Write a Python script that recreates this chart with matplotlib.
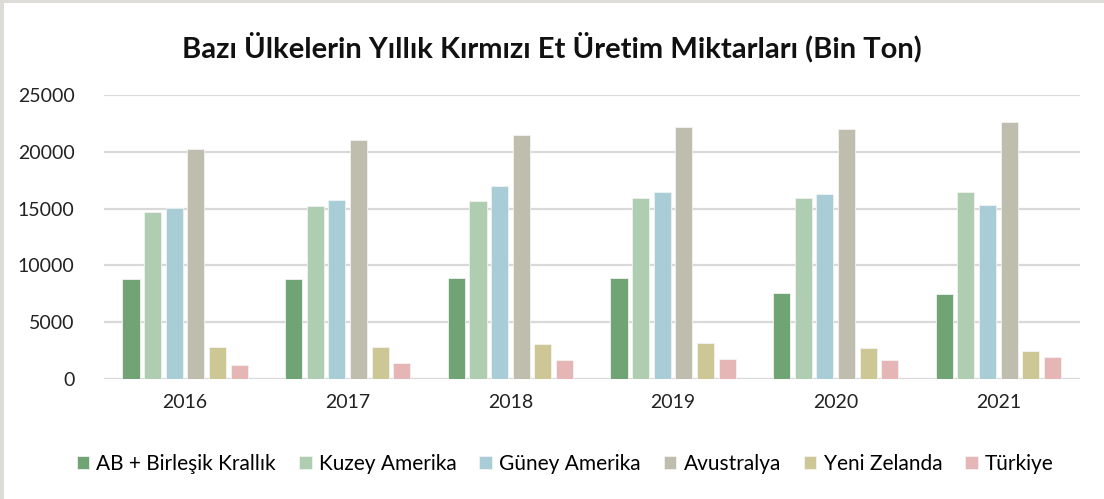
import matplotlib.pyplot as plt
import numpy as np
from matplotlib.patches import Rectangle

plt.rcParams['font.family'] = ['Lato', 'DejaVu Sans']

years = ["2016", "2017", "2018", "2019", "2020", "2021"]
regions = ["AB + Birleşik Krallık", "Kuzey Amerika", "Güney Amerika",
           "Avustralya", "Yeni Zelanda", "Türkiye"]

ab_uk = [8800, 8770, 8900, 8850, 7550, 7470]
kuzey_amerika = [14670, 15200, 15700, 15950, 15950, 16470]
guney_amerika = [15050, 15730, 17000, 16500, 16300, 15300]
avustralya = [20270, 21000, 21500, 22150, 22000, 22600]
yeni_zelanda = [2790, 2840, 3050, 3200, 2700, 2480]
turkiye = [1260, 1400, 1650, 1750, 1700, 1900]

series = [ab_uk, kuzey_amerika, guney_amerika, avustralya, yeni_zelanda, turkiye]
colors = ["#70a474", "#afcdb0", "#a8cdd6", "#bfbdad", "#cdc796", "#e6b6b6"]

fig = plt.figure(figsize=(11.04, 4.99), dpi=100)
fig.patch.set_facecolor("white")
# thin grey strips along the top and left edges
fig.patches.append(Rectangle((0, 0), 4 / 1104, 1, transform=fig.transFigure,
                             facecolor="#dedcd7", edgecolor="none"))
fig.patches.append(Rectangle((0, 1 - 3 / 499), 1, 3 / 499, transform=fig.transFigure,
                             facecolor="#dedcd7", edgecolor="none"))

ax = fig.add_axes([0.094, 0.2405, 0.884, 0.569])

x = np.arange(len(years))
pitch = 0.133
width = 0.105
for i, (vals, name, c) in enumerate(zip(series, regions, colors)):
    ax.bar(x + (i - 2.5) * pitch, vals, width=width, color=c, label=name,
           edgecolor="#f2f2f2", linewidth=0.6, zorder=3)

ax.set_xlim(-0.5, 5.5)
ax.set_ylim(0, 25000)
ax.set_yticks(range(0, 25001, 5000))
ax.set_xticks(x)
ax.set_xticklabels(years)
ax.tick_params(axis='both', length=0, labelsize=14, colors="#222222")
ax.tick_params(axis='y', pad=21)
ax.tick_params(axis='x', pad=11)
ax.grid(axis='y', color="#d9d9d9", linewidth=1.6, zorder=0)
for s in ax.spines.values():
    s.set_visible(False)

fig.text(0.5, 0.905, "Bazı Ülkelerin Yıllık Kırmızı Et Üretim Miktarları (Bin Ton)",
         ha='center', va='center', fontsize=21, fontweight='bold', color="#111111")

fig.legend(loc='center', bbox_to_anchor=(0.512, 0.07), ncol=6, frameon=False,
           fontsize=15, handlelength=0.6, handleheight=0.6, handletextpad=0.35,
           columnspacing=1.1)

fig.savefig("out.png", dpi=100)
